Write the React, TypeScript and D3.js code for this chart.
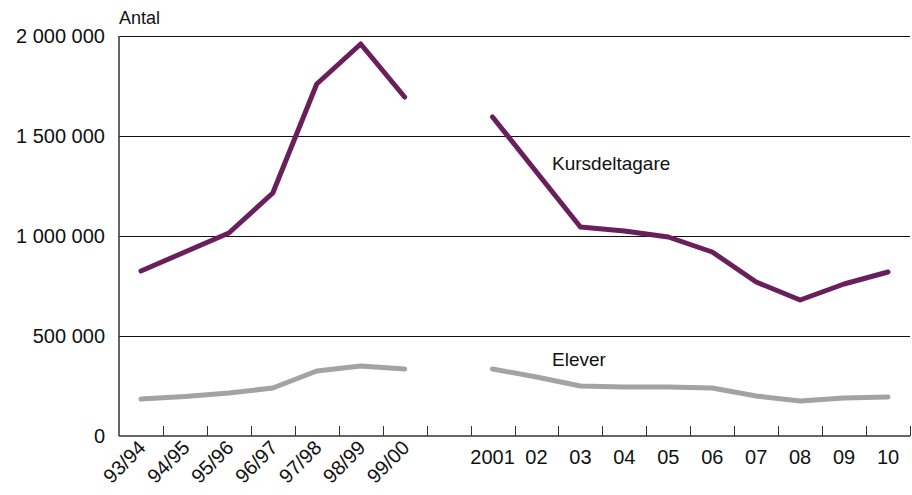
import React from "react";
import * as d3 from "d3";

const categories = ["93/94","94/95","95/96","96/97","97/98","98/99","99/00","","2001","02","03","04","05","06","07","08","09","10"];
const rotatedLabels = ["93/94","94/95","95/96","96/97","97/98","98/99","99/00"];
const kursdeltagare: (number | null)[] = [825000,920000,1015000,1215000,1760000,1960000,1695000,null,1595000,1320000,1045000,1025000,995000,920000,770000,680000,760000,820000];
const elever: (number | null)[] = [185000,197000,215000,240000,325000,350000,335000,null,335000,295000,250000,245000,245000,240000,200000,175000,190000,195000];
const yTicks = [0,500000,1000000,1500000,2000000];

const W = 912, H = 495;
const left = 119, right = 910, top = 36, bottom = 436;

export default function App() {
  const x = d3.scaleBand<string>().domain(categories.map((c, i) => String(i))).range([left, right]).padding(0);
  const y = d3.scaleLinear().domain([0, 2000000]).range([bottom, top]);
  const cx = (i: number) => (x(String(i)) as number) + x.bandwidth() / 2;
  const line = d3.line<number | null>()
    .defined(d => d !== null)
    .x((_, i) => cx(i))
    .y(d => y(d as number));
  const fmt = (v: number) => d3.format(",")(v).replace(/,/g, " ");
  const font = "'Liberation Sans', Arial, sans-serif";
  return (
    <svg width={W} height={H} style={{ position: "absolute", left: 0, top: 0 }} fontFamily={font}>
      <rect width={W} height={H} fill="#fff" />
      {yTicks.filter(t => t > 0).map(t => (
        <line key={t} x1={left} x2={right} y1={y(t) + 0.5} y2={y(t) + 0.5} stroke="#111" strokeWidth={1} />
      ))}
      {yTicks.map(t => (
        <text key={t} x={105} y={y(t) + 7} textAnchor="end" fontSize={20} fill="#111">{fmt(t)}</text>
      ))}
      <text x={119} y={24} fontSize={18} fill="#111">Antal</text>
      <line x1={left} x2={left} y1={top} y2={bottom} stroke="#333" strokeWidth={1.5} />
      <line x1={left} x2={right} y1={bottom} y2={bottom} stroke="#333" strokeWidth={1.5} />
      {categories.map((_, i) => {
        const tx = Math.round((x(String(i)) as number) + x.bandwidth()) + 0.5;
        return <line key={i} x1={tx} x2={tx} y1={bottom - 10} y2={bottom} stroke="#333" strokeWidth={1} />;
      })}
      {categories.map((c, i) => {
        if (!c) return null;
        if (rotatedLabels.includes(c)) {
          const px = cx(i) + 6, py = 449;
          return (
            <text key={i} transform={`translate(${px},${py}) rotate(-45)`} textAnchor="end" fontSize={20} fill="#111">{c}</text>
          );
        }
        return <text key={i} x={cx(i)} y={464} textAnchor="middle" fontSize={20} fill="#111">{c}</text>;
      })}
      <path d={line(elever) || ""} fill="none" stroke="#a3a3a3" strokeWidth={5} strokeLinejoin="round" strokeLinecap="round" />
      <path d={line(kursdeltagare) || ""} fill="none" stroke="#6a1f5d" strokeWidth={5} strokeLinejoin="round" strokeLinecap="round" />
      <text x={552} y={170} fontSize={19} fill="#111">Kursdeltagare</text>
      <text x={552} y={366} fontSize={19} fill="#111">Elever</text>
    </svg>
  );
}
